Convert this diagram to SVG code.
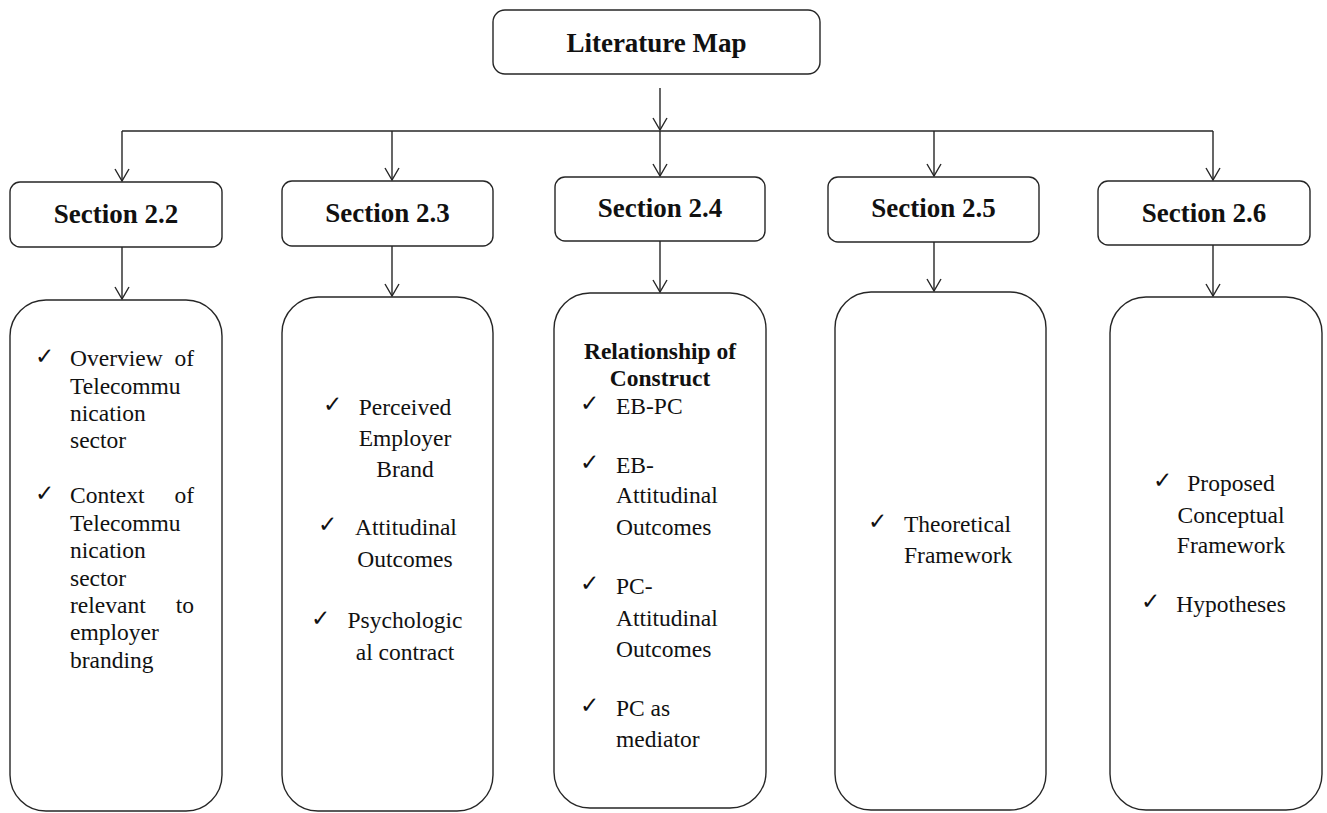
<svg xmlns="http://www.w3.org/2000/svg" width="1327" height="813" viewBox="0 0 1327 813">
  <style>
    .box { fill: #fff; stroke: #262626; stroke-width: 1.4; }
    .wire { fill: none; stroke: #262626; stroke-width: 1.4; }
    .title { font-weight: bold; font-size: 27px; fill: #111; text-anchor: middle; }
    .body { font-size: 23.5px; fill: #111; }
    .head { font-size: 23.5px; font-weight: bold; fill: #111; text-anchor: middle; }
    .mid { text-anchor: middle; }
    .end { text-anchor: end; }
    .tick { font-size: 23px; fill: #111; }
  </style>
  <defs>
    <marker id="vee" viewBox="0 0 14 16" refX="13" refY="8" markerWidth="14" markerHeight="16" markerUnits="userSpaceOnUse" orient="auto">
      <path d="M1,1 L13,8 L1,15" fill="none" stroke="#262626" stroke-width="1.4"/>
    </marker>
  </defs>

  <rect width="1327" height="813" fill="#fff"/>

  <!-- connectors -->
  <g id="connectors" class="wire">
    <path d="M660,88 V130" marker-end="url(#vee)"/>
    <path d="M122,131 H1213"/>
    <path d="M122,131 V181" marker-end="url(#vee)"/>
    <path d="M392,131 V180" marker-end="url(#vee)"/>
    <path d="M660,131 V176" marker-end="url(#vee)"/>
    <path d="M934,131 V176" marker-end="url(#vee)"/>
    <path d="M1213,131 V180" marker-end="url(#vee)"/>
    <path d="M122,247 V299" marker-end="url(#vee)"/>
    <path d="M392,246 V296" marker-end="url(#vee)"/>
    <path d="M660,241 V292" marker-end="url(#vee)"/>
    <path d="M934,242 V291" marker-end="url(#vee)"/>
    <path d="M1213,245 V296" marker-end="url(#vee)"/>
  </g>

  <g font-family="Liberation Serif, Times New Roman, serif">
  <!-- root -->
  <g id="literature-map">
    <rect class="box" x="493" y="10" width="327" height="64" rx="12"/>
    <text class="title" x="656.5" y="52">Literature Map</text>
  </g>

  <!-- section headers -->
  <g id="section-2-2">
    <rect class="box" x="10" y="182" width="212" height="65" rx="10"/>
    <text class="title" x="116" y="223">Section 2.2</text>
  </g>
  <g id="section-2-3">
    <rect class="box" x="282" y="181" width="211" height="65" rx="10"/>
    <text class="title" x="387.5" y="222">Section 2.3</text>
  </g>
  <g id="section-2-4">
    <rect class="box" x="555" y="177" width="210" height="64" rx="10"/>
    <text class="title" x="660" y="217">Section 2.4</text>
  </g>
  <g id="section-2-5">
    <rect class="box" x="828" y="177" width="211" height="65" rx="10"/>
    <text class="title" x="933.5" y="217">Section 2.5</text>
  </g>
  <g id="section-2-6">
    <rect class="box" x="1098" y="181" width="212" height="64" rx="10"/>
    <text class="title" x="1204" y="222">Section 2.6</text>
  </g>

  <!-- section 2.2 contents -->
  <g id="content-2-2">
    <rect class="box" x="10" y="300" width="212" height="511" rx="36"/>
    <text class="tick" font-family="DejaVu Sans, sans-serif" x="35" y="364">✓</text>
    <text class="body" x="70" y="366">Overview</text>
    <text class="body end" x="194" y="366">of</text>
    <text class="body" x="70" y="393.5">Telecommu</text>
    <text class="body" x="70" y="421">nication</text>
    <text class="body" x="70" y="448">sector</text>
    <text class="tick" font-family="DejaVu Sans, sans-serif" x="35" y="501">✓</text>
    <text class="body" x="70" y="503">Context</text>
    <text class="body end" x="194" y="503">of</text>
    <text class="body" x="70" y="530.5">Telecommu</text>
    <text class="body" x="70" y="558">nication</text>
    <text class="body" x="70" y="585.5">sector</text>
    <text class="body" x="70" y="613">relevant</text>
    <text class="body end" x="194" y="613">to</text>
    <text class="body" x="70" y="640">employer</text>
    <text class="body" x="70" y="667.5">branding</text>
  </g>

  <!-- section 2.3 contents -->
  <g id="content-2-3">
    <rect class="box" x="282" y="297" width="211" height="514" rx="36"/>
    <text class="tick" font-family="DejaVu Sans, sans-serif" x="323" y="412">✓</text>
    <text class="body mid" x="405" y="415">Perceived</text>
    <text class="body mid" x="405" y="446">Employer</text>
    <text class="body mid" x="405" y="477">Brand</text>
    <text class="tick" font-family="DejaVu Sans, sans-serif" x="318" y="532">✓</text>
    <text class="body mid" x="406" y="535">Attitudinal</text>
    <text class="body mid" x="405" y="567">Outcomes</text>
    <text class="tick" font-family="DejaVu Sans, sans-serif" x="311" y="626" font-size="29">✓</text>
    <text class="body mid" x="405" y="628">Psychologic</text>
    <text class="body mid" x="405" y="660">al contract</text>
  </g>

  <!-- section 2.4 contents -->
  <g id="content-2-4">
    <rect class="box" x="554" y="293" width="212" height="515" rx="36"/>
    <text class="head" x="660" y="359">Relationship of</text>
    <text class="head" x="660" y="386">Construct</text>
    <text class="tick" font-family="DejaVu Sans, sans-serif" x="580" y="411">✓</text>
    <text class="body" x="616" y="414">EB-PC</text>
    <text class="tick" font-family="DejaVu Sans, sans-serif" x="580" y="470">✓</text>
    <text class="body" x="616" y="473">EB-</text>
    <text class="body" x="616" y="503">Attitudinal</text>
    <text class="body" x="616" y="535">Outcomes</text>
    <text class="tick" font-family="DejaVu Sans, sans-serif" x="580" y="591">✓</text>
    <text class="body" x="616" y="594">PC-</text>
    <text class="body" x="616" y="626">Attitudinal</text>
    <text class="body" x="616" y="657">Outcomes</text>
    <text class="tick" font-family="DejaVu Sans, sans-serif" x="580" y="713">✓</text>
    <text class="body" x="616" y="716">PC as</text>
    <text class="body" x="616" y="747">mediator</text>
  </g>

  <!-- section 2.5 contents -->
  <g id="content-2-5">
    <rect class="box" x="835" y="292" width="211" height="518" rx="36"/>
    <text class="tick" font-family="DejaVu Sans, sans-serif" x="868" y="529">✓</text>
    <text class="body" x="904" y="532">Theoretical</text>
    <text class="body" x="904" y="563">Framework</text>
  </g>

  <!-- section 2.6 contents -->
  <g id="content-2-6">
    <rect class="box" x="1110" y="297" width="212" height="513" rx="36"/>
    <text class="tick" font-family="DejaVu Sans, sans-serif" x="1153" y="488">✓</text>
    <text class="body mid" x="1231" y="491">Proposed</text>
    <text class="body mid" x="1231" y="523">Conceptual</text>
    <text class="body mid" x="1231" y="553">Framework</text>
    <text class="tick" font-family="DejaVu Sans, sans-serif" x="1141" y="609">✓</text>
    <text class="body mid" x="1231" y="612">Hypotheses</text>
  </g>
  </g>
</svg>
